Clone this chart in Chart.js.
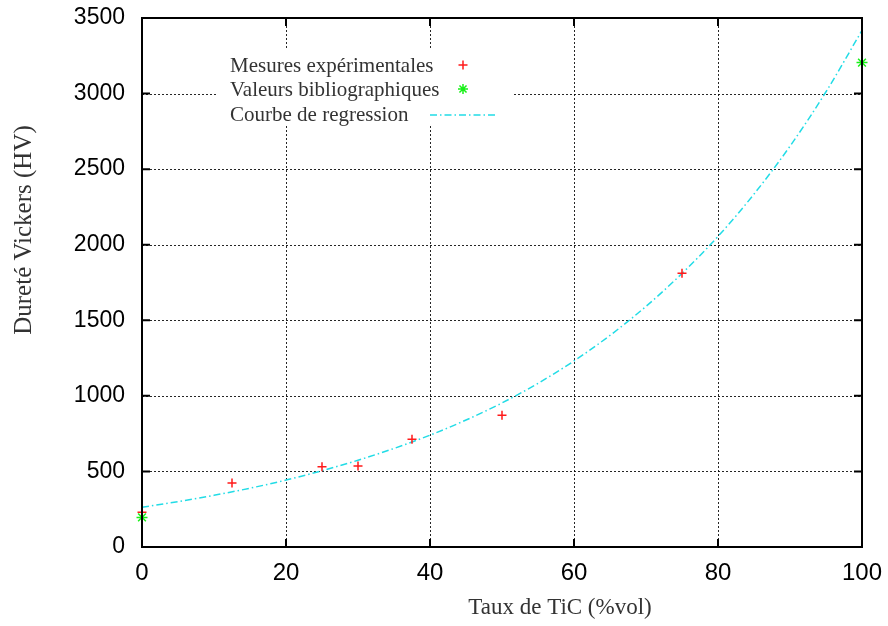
<!DOCTYPE html>
<html>
<head>
<meta charset="utf-8">
<script src="https://cdn.jsdelivr.net/npm/chart.js@4.4.1/dist/chart.umd.min.js"></script>
<style>
  html, body { margin: 0; padding: 0; background: #fff; }
  #wrap { width: 888px; height: 626px; }
</style>
</head>
<body>
<div id="wrap"><canvas id="c" width="888" height="626"></canvas></div>
<script>
// TiC content (%vol) and Vickers hardness (HV)
const mesuresX = [0, 12.5, 25, 30, 37.5, 50, 75];
const mesuresY = [230, 424, 531, 536, 713, 871, 1811];

const biblioX = [0, 100];
const biblioY = [196, 3205];

const regressionX = [0, 5, 10, 15, 20, 25, 30, 35, 40, 45, 50, 55, 60, 65, 70, 75, 80, 85, 90, 95, 100];
const regressionY = [263, 300, 342, 389, 443, 505, 574, 652, 740, 840, 953, 1083, 1231, 1400, 1592, 1810, 2055, 2335, 2652, 3012, 3418];

const xTickLabels = ['0', '20', '40', '60', '80', '100'];
const yTickLabels = ['0', '500', '1000', '1500', '2000', '2500', '3000', '3500'];

const seriesLabels = ['Mesures expérimentales', 'Valeurs bibliographiques', 'Courbe de regression'];
const xTitle = 'Taux de TiC (%vol)';
const yTitle = 'Dureté Vickers (HV)';

const RED = '#ff1a1a';
const GREEN = '#18f018';
const CYAN = '#22dce6';
const CURVE_DASH = [7, 3, 1.5, 3];

const toPoints = (xs, ys) => xs.map((x, i) => ({ x: x, y: ys[i] }));

const serif = '"Liberation Serif", "DejaVu Serif", serif';
const sans = '"Liberation Sans", Arial, sans-serif';

// Dotted grid, white key box
const underlay = {
  id: 'underlay',
  beforeDatasetsDraw(chart) {
    const { ctx, chartArea: a, scales: { x, y } } = chart;
    ctx.save();
    ctx.strokeStyle = 'rgba(0,0,0,0.85)';
    ctx.lineWidth = 1;
    ctx.setLineDash([2, 2]);
    x.ticks.forEach(t => {
      if (t.value <= x.min || t.value >= x.max) return;
      const px = Math.round(x.getPixelForValue(t.value)) + 0.5;
      ctx.beginPath(); ctx.moveTo(px, a.top); ctx.lineTo(px, a.bottom); ctx.stroke();
    });
    y.ticks.forEach(t => {
      if (t.value <= y.min || t.value >= y.max) return;
      const py = Math.round(y.getPixelForValue(t.value)) + 0.5;
      ctx.beginPath(); ctx.moveTo(a.left, py); ctx.lineTo(a.right, py); ctx.stroke();
    });
    ctx.setLineDash([]);
    // key background
    ctx.fillStyle = '#fff';
    ctx.fillRect(217, 50, 295, 75);
    ctx.restore();
  }
};

// Frame, inward ticks on all sides, titles and key
const overlay = {
  id: 'overlay',
  afterDatasetsDraw(chart) {
    const { ctx, chartArea: a, scales: { x, y } } = chart;
    ctx.save();
    ctx.strokeStyle = '#000';
    ctx.lineWidth = 2;
    ctx.strokeRect(a.left, a.top, a.right - a.left, a.bottom - a.top);
    const tl = 8;
    ctx.beginPath();
    x.ticks.forEach(t => {
      const px = x.getPixelForValue(t.value);
      ctx.moveTo(px, a.bottom); ctx.lineTo(px, a.bottom - tl);
      ctx.moveTo(px, a.top); ctx.lineTo(px, a.top + tl);
    });
    y.ticks.forEach(t => {
      const py = y.getPixelForValue(t.value);
      ctx.moveTo(a.left, py); ctx.lineTo(a.left + tl, py);
      ctx.moveTo(a.right, py); ctx.lineTo(a.right - tl, py);
    });
    ctx.stroke();

    // axis titles
    ctx.fillStyle = '#333';
    ctx.textAlign = 'center';
    ctx.textBaseline = 'middle';
    ctx.font = '23px ' + serif;
    ctx.fillText(xTitle, 560, 608);
    ctx.save();
    ctx.translate(24, 230);
    ctx.rotate(-Math.PI / 2);
    ctx.font = '25px ' + serif;
    ctx.fillText(yTitle, 0, 0);
    ctx.restore();

    // key
    ctx.font = '21px ' + serif;
    ctx.textAlign = 'left';
    ctx.textBaseline = 'middle';
    const rows = [66, 90, 115];
    rows.forEach((ry, i) => ctx.fillText(chart.data.datasets[i].label, 230, ry));
    const mx = 463;
    // cross
    ctx.strokeStyle = RED; ctx.lineWidth = 1.5;
    ctx.beginPath();
    ctx.moveTo(mx - 4.5, rows[0] - 1); ctx.lineTo(mx + 4.5, rows[0] - 1);
    ctx.moveTo(mx, rows[0] - 5.5); ctx.lineTo(mx, rows[0] + 3.5);
    ctx.stroke();
    // star
    ctx.strokeStyle = GREEN;
    ctx.beginPath();
    const sy = rows[1] - 1, r = 5, d = r * Math.SQRT1_2;
    ctx.moveTo(mx - r, sy); ctx.lineTo(mx + r, sy);
    ctx.moveTo(mx, sy - r); ctx.lineTo(mx, sy + r);
    ctx.moveTo(mx - d, sy - d); ctx.lineTo(mx + d, sy + d);
    ctx.moveTo(mx - d, sy + d); ctx.lineTo(mx + d, sy - d);
    ctx.stroke();
    // dash-dot sample
    ctx.strokeStyle = CYAN;
    ctx.setLineDash(CURVE_DASH);
    ctx.beginPath();
    ctx.moveTo(430, rows[2]); ctx.lineTo(497, rows[2]);
    ctx.stroke();
    ctx.restore();
  }
};

new Chart(document.getElementById('c'), {
  type: 'scatter',
  data: {
    datasets: [
      {
        label: seriesLabels[0],
        data: toPoints(mesuresX, mesuresY),
        pointStyle: 'cross',
        pointRadius: 4.5,
        pointBorderWidth: 1.5,
        borderColor: RED,
        backgroundColor: RED,
        clip: false,
        order: 0
      },
      {
        label: seriesLabels[1],
        data: toPoints(biblioX, biblioY),
        pointStyle: 'star',
        pointRadius: 5.5,
        pointBorderWidth: 1.5,
        borderColor: GREEN,
        backgroundColor: GREEN,
        clip: false,
        order: 1
      },
      {
        label: seriesLabels[2],
        data: toPoints(regressionX, regressionY),
        showLine: true,
        pointRadius: 0,
        borderColor: CYAN,
        borderWidth: 1.5,
        borderDash: CURVE_DASH,
        cubicInterpolationMode: 'monotone',
        order: 2
      }
    ]
  },
  options: {
    responsive: false,
    animation: false,
    events: [],
    layout: { padding: { top: 18, right: 26, left: 0, bottom: 0 } },
    plugins: { legend: { display: false }, tooltip: { enabled: false } },
    scales: {
      x: {
        type: 'linear',
        min: 0, max: 100,
        afterFit(s) { s.height = 79; s.paddingLeft = 0; s.paddingRight = 0; },
        afterBuildTicks(s) { s.ticks = xTickLabels.map(v => ({ value: Number(v) })); },
        ticks: {
          callback: (v) => String(v),
          font: { family: sans, size: 24 },
          color: '#000',
          padding: 12,
          maxRotation: 0,
          autoSkip: false
        },
        grid: { display: false, drawTicks: false },
        border: { display: false }
      },
      y: {
        type: 'linear',
        min: 0, max: 3500,
        afterFit(s) { s.width = 142; s.paddingTop = 0; s.paddingBottom = 0; },
        afterBuildTicks(s) { s.ticks = yTickLabels.map(v => ({ value: Number(v) })); },
        ticks: {
          callback: (v) => String(v),
          font: { family: sans, size: 23 },
          color: '#000',
          padding: 17,
          autoSkip: false
        },
        grid: { display: false, drawTicks: false },
        border: { display: false }
      }
    }
  },
  plugins: [underlay, overlay]
});
</script>
</body>
</html>
